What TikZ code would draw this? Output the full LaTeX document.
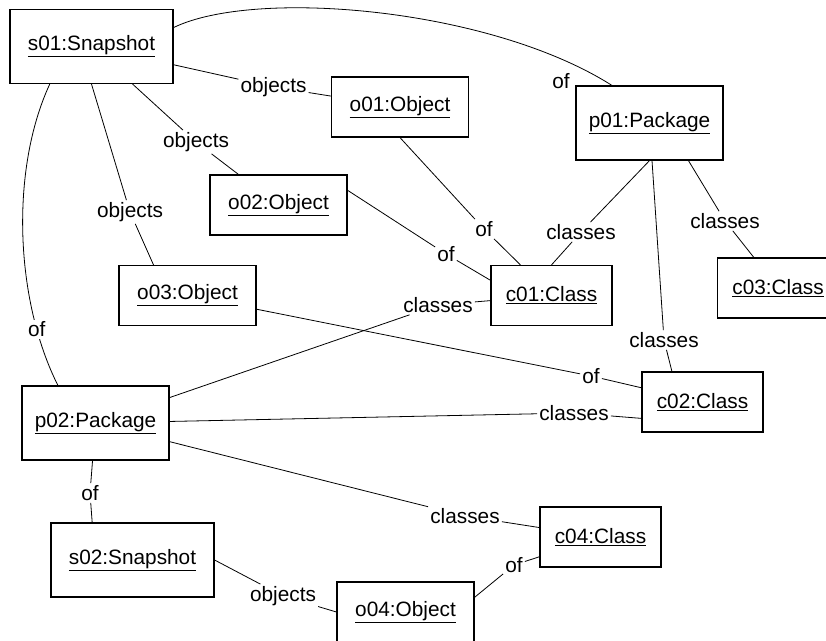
\documentclass[tikz,border=0pt]{standalone}
\usepackage{fontspec}
\setmainfont{Liberation Sans}
\usetikzlibrary{positioning}

\begin{document}
\begin{tikzpicture}[x=1pt,y=-1pt,
  font=\fontsize{20.8}{25}\selectfont,
  box/.style={rectangle,draw,black,line width=1.2pt,inner sep=0pt},
  snapbox/.style={box,minimum width=163pt,minimum height=74pt},
  objbox/.style={box,minimum width=137pt,minimum height=60pt},
  pkgbox/.style={box,minimum width=147pt,minimum height=74pt},
  clsbox/.style={box,minimum width=121pt,minimum height=60pt},
  lbl/.style={inner sep=2pt},
  link/.style={line width=0.8pt}]
\useasboundingbox (0,0) rectangle (826,640);
\clip (0,0) rectangle (826,640);

% snapshots
\node[snapbox](s01) at (91.5,46.5){\underline{s01:Snapshot}};
\node[snapbox](s02) at (132.5,560){\underline{s02:Snapshot}};

% pakete
\node[pkgbox](p01) at (649.5,123){\underline{p01:Package}};
\node[pkgbox](p02) at (95.5,423){\underline{p02:Package}};

% objekte
\node[objbox](o01) at (400,107){\underline{o01:Object}};
\node[objbox](o02) at (278.5,205){\underline{o02:Object}};
\node[objbox](o03) at (187.5,295.5){\underline{o03:Object}};
\node[objbox](o04) at (405.5,612){\underline{o04:Object}};

% klassen
\node[clsbox](c01) at (551.5,295.5){\underline{c01:Class}};
\node[clsbox](c02) at (702.5,402){\underline{c02:Class}};
\node[clsbox](c03) at (778,288){\underline{c03:Class}};
\node[clsbox](c04) at (600.5,537){\underline{c04:Class}};

% beschriftungen
\node[lbl](l1) at (561,81){of};
\node[lbl](l2) at (273.5,87){objects};
\node[lbl](l3) at (196,142){objects};
\node[lbl](l4) at (130,212){objects};
\node[lbl](l5) at (484,229){of};
\node[lbl](l6) at (446,254){of};
\node[lbl](l7) at (581,232){classes};
\node[lbl](l8) at (725,221){classes};
\node[lbl](l9) at (664,340){classes};
\node[lbl](l10) at (438,305){classes};
\node[lbl](l11) at (591,376){of};
\node[lbl](l12) at (574,413){classes};
\node[lbl](l13) at (465,516){classes};
\node[lbl](l14) at (90,493){of};
\node[lbl](l15) at (283,596){objects};
\node[lbl](l16) at (514,565){of};

% verbindungen
\draw[link] (s01.13) .. controls (255,-12) and (490,8) .. (p01.135);
\draw[link] (s01.222) .. controls (10,170) and (15,300) .. (p02.135)
  node[lbl,fill=white,pos=0.8](l17){of};
\draw[link] (s01) -- (l2) -- (o01);
\draw[link] (s01) -- (l3) -- (o02);
\draw[link] (s01.south) -- (l4) -- (o03.138);
\draw[link] (o01.south) -- (l5) -- (c01);
\draw[link] (o02.12) -- (l6) -- (c01.166);
\draw[link] (p01.south) -- (l7) -- (c01.north);
\draw[link] (p01.-44) -- (l8) -- (c03);
\draw[link] (p01) -- (l9) -- (c02.135);
\draw[link] (p02) -- (l10) -- (c01);
\draw[link] (o03) -- (l11) -- (c02);
\draw[link] (p02) -- (l12) -- (c02.195);
\draw[link] (p02) -- (l13) -- (c04);
\draw[link] (p02) -- (l14) -- (s02.137);
\draw[link] (s02.east) -- (l15) -- (o04.west);
\draw[link] (o04.12) -- (l16) -- (c04);

\end{tikzpicture}
\end{document}
